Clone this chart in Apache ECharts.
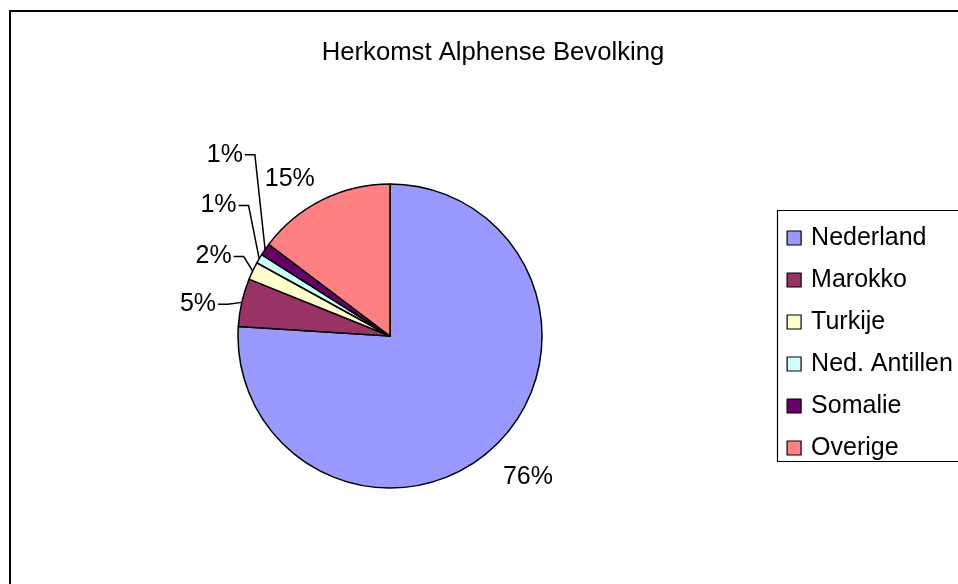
<!DOCTYPE html>
<html>
<head>
<meta charset="utf-8">
<script src="https://cdn.jsdelivr.net/npm/echarts@6/dist/echarts.min.js"></script>
<style>
  html, body { margin: 0; padding: 0; background: #fff; }
  #chart { width: 958px; height: 584px; }
</style>
</head>
<body>
<div id="chart"></div>
<script>
// ---- data ----
const titleText = 'Herkomst Alphense Bevolking';
const categories = ['Nederland', 'Marokko', 'Turkije', 'Ned. Antillen', 'Somalie', 'Overige'];
const values = [76.0, 5.1, 1.9, 1.0, 1.3, 14.7];

// ---- styles ----
const colors = ['#9999FF', '#993366', '#FFFFCC', '#CCFFFF', '#660066', '#FF8080'];
const showLeader = [false, true, true, true, true, false];
const labelNudge = [[-13, 23], [-1, 4], [3, -10], [1, -48], [1, -89], [12, -12]];
const leaderLen = 10;
const FONT = 'Liberation Sans, Arial, sans-serif';

const chart = echarts.init(document.getElementById('chart'), null, { renderer: 'canvas' });

const seriesData = categories.map((name, i) => ({
  name: name,
  value: values[i],
  itemStyle: { color: colors[i] },
  labelLine: { show: showLeader[i] }
}));

const option = {
  animation: false,
  backgroundColor: '#fff',
  title: {
    text: titleText,
    left: 493,
    top: 40,
    padding: 0,
    textAlign: 'center',
    textStyle: { fontFamily: FONT, fontSize: 25.7, fontWeight: 'normal', color: '#000', lineHeight: 26 }
  },
  legend: {
    orient: 'vertical',
    left: 777.5,
    top: 210.5,
    padding: [15, 12, 1, 9],
    itemGap: 17,
    itemWidth: 14,
    itemHeight: 14,
    icon: 'rect',
    borderColor: '#000',
    borderWidth: 1.2,
    backgroundColor: '#fff',
    itemStyle: { borderColor: '#000', borderWidth: 1.2 },
    textStyle: { fontFamily: FONT, fontSize: 25, color: '#000', lineHeight: 25, padding: [0, 0, 0, 5] },
    data: categories
  },
  graphic: [{
    type: 'rect',
    silent: true,
    z: -1,
    shape: { x: 10, y: 11, width: 1200, height: 1000 },
    style: { fill: 'transparent', stroke: '#000', lineWidth: 2 }
  }],
  series: [{
    type: 'pie',
    center: [390, 336],
    radius: 152,
    startAngle: 90,
    clockwise: true,
    percentPrecision: 0,
    avoidLabelOverlap: false,
    emphasis: { disabled: true },
    itemStyle: { borderColor: '#000', borderWidth: 1.5 },
    label: {
      show: true,
      position: 'outside',
      formatter: '{d}%',
      fontFamily: FONT,
      fontSize: 25,
      color: '#000',
      lineHeight: 25
    },
    labelLine: {
      length: 10,
      length2: 10,
      smooth: false,
      lineStyle: { color: '#000', width: 1.5 }
    },
    labelLayout: function (p) {
      const n = labelNudge[p.dataIndex];
      const r = p.labelRect;
      const alignRight = p.align === 'right';
      const ax = (alignRight ? r.x + r.width : r.x) + n[0];
      const ay = r.y + r.height / 2 + n[1];
      const out = { x: ax, y: ay, align: p.align, verticalAlign: 'middle' };
      if (p.labelLinePoints && p.labelLinePoints.length) {
        const s = alignRight ? 1 : -1;
        out.labelLinePoints = [
          p.labelLinePoints[0],
          [ax + s * (2 + leaderLen), ay],
          [ax + s * 2, ay]
        ];
      }
      return out;
    },
    data: seriesData
  }]
};

chart.setOption(option);
</script>
</body>
</html>
